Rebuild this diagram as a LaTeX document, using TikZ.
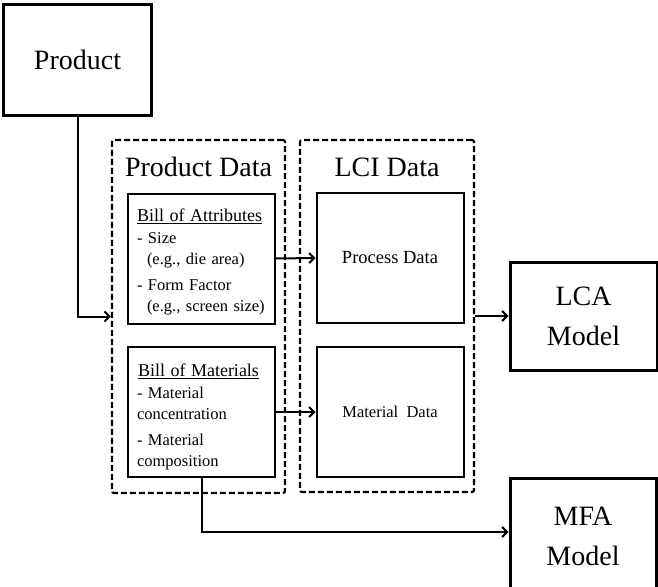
\documentclass[tikz,border=0pt]{standalone}
\usepackage{fontspec}
\setmainfont{Liberation Serif}
\usetikzlibrary{arrows.meta}

\begin{document}
\begin{tikzpicture}[
    x=1pt, y=-1pt,
    thick_box/.style={rectangle, draw, line width=3pt, inner sep=0pt, font=\fontsize{28}{40}\selectfont, align=center},
    inner_box/.style={rectangle, draw, line width=2pt, inner sep=0pt, minimum width=147pt, minimum height=130pt},
    dash_box/.style={rectangle, draw, line width=2.2pt, dash pattern=on 6pt off 3pt, rounded corners=2pt, inner sep=0pt},
    title_style/.style={font=\fontsize{28}{30}\selectfont, inner sep=0pt},
    list_style/.style={align=left, text width=129pt, font=\fontsize{16.5}{21}\selectfont},
    arrow_style/.style={draw, line width=2pt, -{Straight Barb[length=5pt, width=10pt]}}
]
  \useasboundingbox (0,0) rectangle (658,586);
  \clip (0,0) rectangle (658,586);
  % Source and the two dashed groups
  \node[thick_box, minimum width=148pt, minimum height=111pt] (product) at (77.5,60) {Product};
  \node[dash_box, minimum width=173pt, minimum height=353pt] (proddata) at (198.5,316.5) {};
  \node[dash_box, minimum width=174pt, minimum height=352pt] (lcidata) at (387,316) {};
  \node[title_style] (proddata_title) at (198.5,167) {Product Data};
  \node[title_style] (lcidata_title) at (387,167) {LCI Data};
  % Product data boxes
  \node[inner_box, list_style] (boa) at (201.5,258.5) {%
    \rule{0pt}{19pt}{\fontsize{18}{22}\selectfont\underline{Bill of Attributes}}\\[1pt]
    - Size\\
    \hspace*{10pt}(e.g., die area)\\[5pt]
    - Form Factor\\
    \hspace*{10pt}(e.g., screen size)};
  \node[inner_box, list_style] (bom) at (201.5,412) {%
    \rule{0pt}{22pt}{\fontsize{18}{22}\selectfont\hspace*{1pt}\underline{Bill of Materials}}\\[1pt]
    - Material\\
    concentration\\[5pt]
    - Material\\
    composition};
  % LCI data boxes
  \node[inner_box, font=\fontsize{18.5}{22}\selectfont] (process) at (390,258) {Process Data};
  \node[inner_box, font=\fontsize{16.5}{20}\selectfont] (material) at (390,412) {Material\enspace Data};
  % Models
  \node[thick_box, minimum width=147pt, minimum height=108pt] (lca) at (583.5,316) {LCA\\Model};
  \node[thick_box, minimum width=146pt, minimum height=116pt] (mfa) at (583,536) {MFA\\Model};
  % Connectors
  \draw[arrow_style] (product.south) |- (proddata.west);
  \draw[arrow_style] (boa.east) -- (process.west);
  \draw[arrow_style] (bom.east) -- (material.west);
  \draw[arrow_style] (lcidata.east) -- (lca.west);
  \draw[arrow_style] (bom.south) |- ([yshift=4pt]mfa.west);
\end{tikzpicture}
\end{document}
